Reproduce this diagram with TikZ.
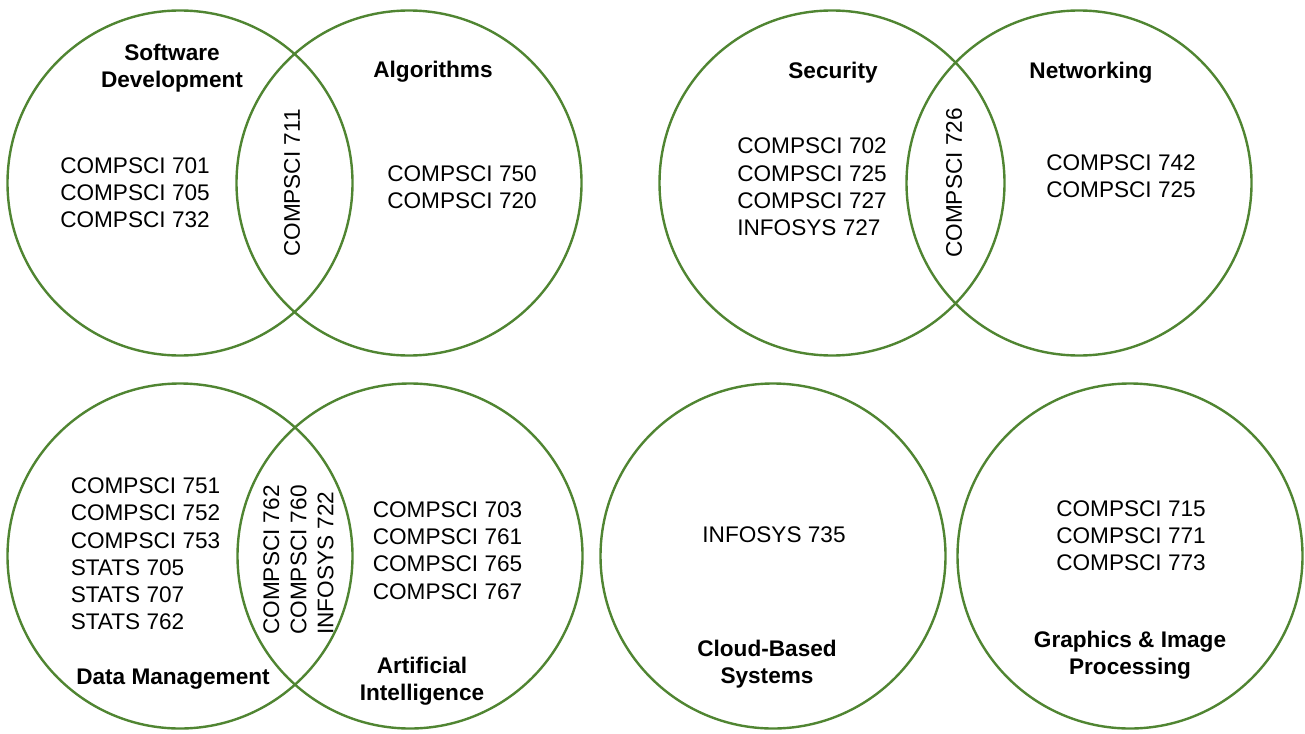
\documentclass[tikz,border=0pt]{standalone}
\usepackage{fontspec}
\setmainfont{Liberation Sans}
\definecolor{venngreen}{RGB}{80,133,50}

\begin{document}
\begin{tikzpicture}[x=0.5pt,y=-0.5pt, every node/.style={font=\fontsize{11.3}{13.6}\selectfont}]
				\tikzstyle{mycirclestyle} = [draw=venngreen, line width=1.2pt, circle, minimum size=172.5pt, inner sep=0pt]
				\tikzstyle{mytitlestyle} = [align=center, font=\fontsize{11.3}{13.6}\selectfont\bfseries]
				\tikzstyle{mylensstyle} = [align=left, rotate=90]
				
				\useasboundingbox (0,0) rectangle (1305,733);
				
				% the eight areas
				\node[mycirclestyle] (V1) at (180,183) {};
				\node[mycirclestyle] (V2) at (409,183) {};
				\node[mycirclestyle] (V3) at (832,183) {};
				\node[mycirclestyle] (V4) at (1079,183) {};
				\node[mycirclestyle] (V5) at (180,556) {};
				\node[mycirclestyle] (V6) at (410,556) {};
				\node[mycirclestyle] (V7) at (773,556) {};
				\node[mycirclestyle] (V8) at (1130,556) {};
				
				% area names
				\node[mytitlestyle] (H1) at (172,68) {Software\\Development};
				\node[mytitlestyle] (H2) at (433,72) {Algorithms};
				\node[mytitlestyle] (H3) at (833,73) {Security};
				\node[mytitlestyle] (H4) at (1091,73) {Networking};
				\node[mytitlestyle] (H5) at (173,679) {Data Management};
				\node[mytitlestyle] (H6) at (422,681) {Artificial\\Intelligence};
				\node[mytitlestyle] (H7) at (767,664) {Cloud-Based\\Systems};
				\node[mytitlestyle] (H8) at (1130,655) {Graphics \& Image\\Processing};
				
				% courses
				\node[align=left] (K1) at (135,193) {COMPSCI 701\\COMPSCI 705\\COMPSCI 732};
				\node[align=left] (K2) at (462,187) {COMPSCI 750\\COMPSCI 720};
				\node[align=left] (K3) at (812,187) {COMPSCI 702\\COMPSCI 725\\COMPSCI 727\\INFOSYS 727};
				\node[align=left] (K4) at (1121,176) {COMPSCI 742\\COMPSCI 725};
				\node[align=left] (K5) at (145.5,554) {COMPSCI 751\\COMPSCI 752\\COMPSCI 753\\STATS 705\\STATS 707\\STATS 762};
				\node[align=left] (K6) at (447.5,550.5) {COMPSCI 703\\COMPSCI 761\\COMPSCI 765\\COMPSCI 767};
				\node (K7) at (774,535) {INFOSYS 735};
				\node[align=left] (K8) at (1131,535.5) {COMPSCI 715\\COMPSCI 771\\COMPSCI 773};
				
				% shared courses
				\node[mylensstyle] (L1) at (292,183) {COMPSCI 711};
				\node[mylensstyle] (L2) at (954,183) {COMPSCI 726};
				\node[mylensstyle] (L3) at (298.5,560) {COMPSCI 762\\COMPSCI 760\\INFOSYS 722};
				
				\end{tikzpicture}
\end{document}
